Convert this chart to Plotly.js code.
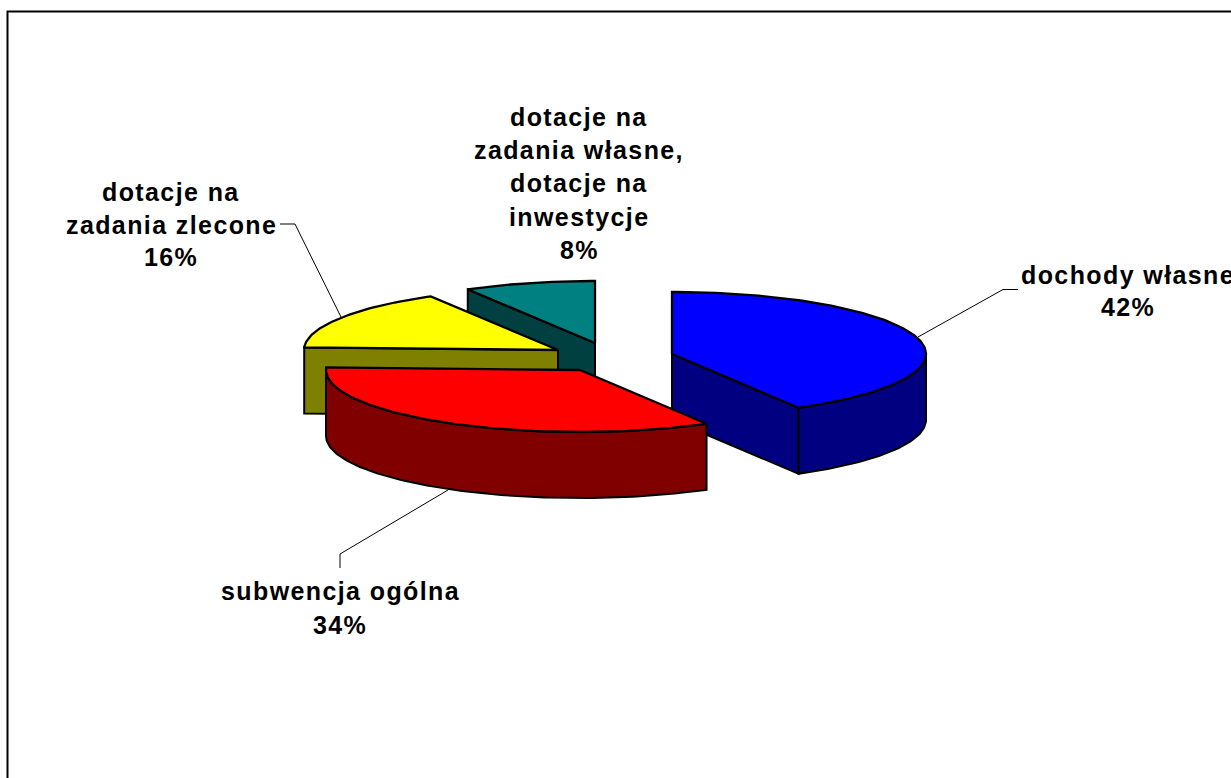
<!DOCTYPE html>
<html>
<head>
<meta charset="utf-8">
<script src="https://cdn.plot.ly/plotly-3.0.1.min.js"></script>
<style>
html,body{margin:0;padding:0;background:#fff;overflow:hidden}
.annotation-text{letter-spacing:1.4px}
.js-line,.js-fill{stroke-linejoin:miter !important}
</style>
</head>
<body>
<div id="chart" style="width:1231px;height:778px"></div>
<script>
// Data (labels show rounded percentages)
const categories = ["dochody własne", "subwencja ogólna", "dotacje na zadania zlecone", "dotacje na zadania własne, dotacje na inwestycje"];
const values = [41.7, 33.95, 16.0, 8.35];
const labelLines = [["dochody własne"], ["subwencja ogólna"], ["dotacje na", "zadania zlecone"], ["dotacje na", "zadania własne,", "dotacje na", "inwestycje"]];
const topColors = ["#0000FF", "#FF0000", "#FFFF00", "#008080"];
const sideColors = ["#000080", "#800000", "#808000", "#004040"];

// 3D pie geometry (page-pixel axis units)
const RX = 254, RY = 62, DEPTH = 66;
const centers = [[672, 354], [580, 370], [558, 350], [595, 343]];
const labelPos = [[1128, 275, 32], [340, 591, 34], [171, 192, 32.5], [579, 117, 33.2]];
const leaders = [
  [[1018, 1003, 918], [289.5, 289.5, 337]],
  [[340, 340, 448], [568, 554, 490]],
  [[280, 295, 341], [224, 224, 317]]
];
const drawOrder = [3, 2, 0, 1];

const rad = d => d * Math.PI / 180;
const pt = (c, a, dz) => [c[0] + RX * Math.sin(rad(a)), c[1] - RY * Math.cos(rad(a)) + (dz || 0)];
function arc(c, a0, a1, dz) {
  const out = [], n = Math.max(2, Math.ceil(Math.abs(a1 - a0)));
  for (let i = 0; i <= n; i++) out.push(pt(c, a0 + (a1 - a0) * i / n, dz));
  return out;
}
function poly(points, fill, name, width) {
  const closed = points.concat([points[0]]);
  return {
    type: "scatter", mode: "lines", fill: "toself", fillcolor: fill, name: name,
    x: closed.map(p => p[0]), y: closed.map(p => p[1]),
    line: { color: "#000", width: width, shape: "linear" }, hoverinfo: "name"
  };
}

const total = values.reduce((s, v) => s + v, 0);
let running = 0;
const spans = values.map(v => { const a0 = running / total * 360; running += v; return [a0, running / total * 360]; });

const traces = [];
leaders.forEach(l => traces.push({
  type: "scatter", mode: "lines", x: l[0], y: l[1], line: { color: "#000", width: 1 }, hoverinfo: "skip"
}));

drawOrder.forEach(i => {
  const c = centers[i], a0 = spans[i][0], a1 = spans[i][1], name = categories[i];
  const apex = [c[0], c[1]], apexLow = [c[0], c[1] + DEPTH];
  // radial cut faces that look toward the viewer
  if (Math.sin(rad(a1)) > 0.01) traces.push(poly([apex, pt(c, a1), pt(c, a1, DEPTH), apexLow], sideColors[i], name, 2));
  if (Math.sin(rad(a0)) < -0.01) traces.push(poly([apex, pt(c, a0), pt(c, a0, DEPTH), apexLow], sideColors[i], name, 2));
  // outer wall: front half of the rim only
  const w0 = Math.max(a0, 90), w1 = Math.min(a1, 270);
  if (w1 > w0) traces.push(poly(arc(c, w0, w1, 0).concat(arc(c, w1, w0, DEPTH)), sideColors[i], name, 2));
  // top face
  traces.push(poly([apex].concat(arc(c, a0, a1, 0)), topColors[i], name, 2.3));
});

const annotations = [];
labelLines.forEach((lines, i) => {
  const p = labelPos[i];
  lines.concat([Math.round(values[i] / total * 100) + "%"]).forEach((t, k) => annotations.push({
    xref: "x", yref: "y", x: p[0], y: p[1] + k * p[2], text: t, showarrow: false,
    xanchor: "center", yanchor: "middle", align: "center",
    font: { family: "Liberation Sans, Arial, sans-serif", size: 25, color: "#000", weight: 700 }
  }));
});

Plotly.newPlot("chart", traces, {
  width: 1231, height: 778, autosize: false,
  margin: { l: 0, r: 0, t: 0, b: 0, pad: 0 },
  paper_bgcolor: "#fff", plot_bgcolor: "#fff", showlegend: false,
  xaxis: { range: [0, 1231], visible: false, fixedrange: true },
  yaxis: { range: [778, 0], visible: false, fixedrange: true },
  annotations: annotations,
  shapes: [{ type: "path", xref: "x", yref: "y", path: "M 7.5 778 L 7.5 11.5 L 1231 11.5", line: { color: "#000", width: 2 } }]
}, { displayModeBar: false, staticPlot: true });
</script>
</body>
</html>
